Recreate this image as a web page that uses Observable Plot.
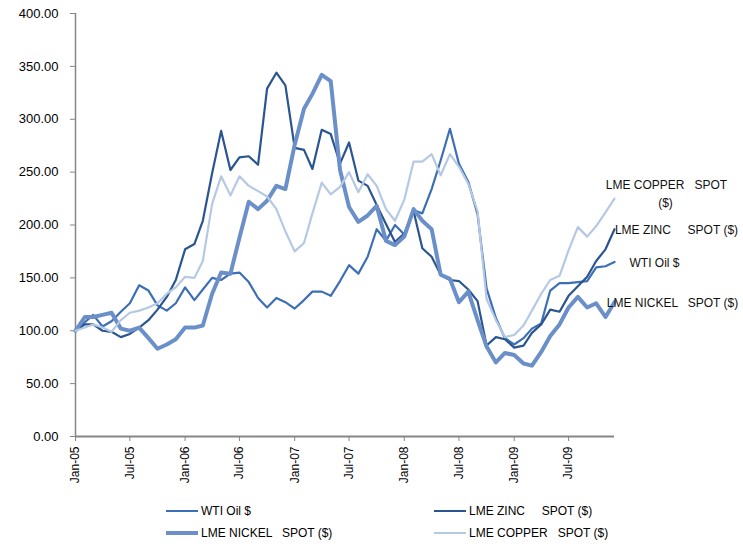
<!DOCTYPE html>
<html>
<head>
<meta charset="utf-8">
<script src="https://cdn.jsdelivr.net/npm/d3@7"></script>
<script src="https://cdn.jsdelivr.net/npm/@observablehq/plot@0.6"></script>
<style>
  html, body { margin: 0; padding: 0; background: #fff; }
  body { width: 743px; height: 546px; overflow: hidden; font-family: "Liberation Sans", Arial, sans-serif; }
  #chart svg { display: block; }
  svg text { white-space: pre; }
  #legend { position: relative; width: 743px; height: 56px; font-size: 12px; color: #000; }
  .item { position: absolute; display: flex; align-items: center; white-space: pre; }
  .sw { width: 32px; margin-right: 3px; }
</style>
</head>
<body>
<div id="chart"></div>
<div id="legend"></div>
<script>
// ---- data (index = month, Jan-05 .. Dec-09) ----
const seriesNames = ["WTI Oil $", "LME ZINC     SPOT ($)", "LME NICKEL   SPOT ($)", "LME COPPER   SPOT ($)"];

const oil = [100,108,115,104,109,118,126,143,138,124,119,126,
             141,129,139,150,148,154,155,146,131,122,131,127,
             121,129,137,137,133,147,162,154,170,196,185,200,
             191,214,211,234,261,291,258,241,210,140,112,93,
             87,93,102,107,138,145,145,146,147,160,161,165];

const zinc = [100,106,106,100,99,94,97,103,110,120,132,148,
              177,182,204,249,289,252,264,265,257,329,344,332,
              273,271,253,290,286,258,278,242,237,219,201,184,
              192,213,178,170,153,148,147,139,128,86,94,92,
              84,86,98,106,120,118,133,142,151,166,177,196];

const nickel = [100,113,113,115,117,102,100,103,93,83,87,92,
                103,103,105,135,155,154,188,222,215,223,237,234,
                276,310,324,342,336,252,217,203,209,218,185,181,
                189,215,204,196,153,149,127,137,110,85,70,79,
                77,69,67,80,95,106,122,132,122,126,113,127];

const copper = [100,103,106,103,99,110,117,119,122,126,135,141,
                151,150,166,220,246,228,246,237,232,227,215,194,
                175,183,211,240,229,236,250,231,248,237,215,204,
                224,260,260,267,247,267,255,239,213,130,110,94,
                96,105,119,135,148,152,176,198,189,199,212,225];

const yTicks = [0, 50, 100, 150, 200, 250, 300, 350, 400];

// ---- build ----
const months = d3.utcMonth.range(new Date(Date.UTC(2005, 0, 1)), new Date(Date.UTC(2010, 0, 1)));
const tickDates = months.filter((d, i) => i % 6 === 0);
const allValues = [oil, zinc, nickel, copper];
const colors = ["#3d6fb6", "#2a5590", "#6b8fc8", "#b5c8e4"];
const widths = [2.2, 2.2, 4, 2.2];

const rows = (vals) => months.map((d, i) => ({date: d, value: vals[i]}));
const last = (vals) => [{date: months[months.length - 1], value: vals[vals.length - 1]}];

const lineMarks = allValues.map((vals, k) =>
  Plot.line(rows(vals), {x: "date", y: "value", stroke: colors[k], strokeWidth: widths[k], strokeLinejoin: "round"}));

const labelOpts = [
  {k: 0, text: seriesNames[0], dx: 40, dy: 1},
  {k: 1, text: seriesNames[1], dx: 62, dy: 1},
  {k: 2, text: seriesNames[2], dx: 58, dy: 1},
  {k: 3, text: "LME COPPER   SPOT", dx: 52, dy: -13},
  {k: 3, text: "($)", dx: 51, dy: 5}
];
const labelMarks = labelOpts.map(o =>
  Plot.text(last(allValues[o.k]), {x: "date", y: "value", text: () => o.text,
    dx: o.dx, dy: o.dy, textAnchor: "middle", lineAnchor: "middle",
    fill: "#111", fontSize: 12}));

const chart = Plot.plot({
  width: 743,
  height: 490,
  marginLeft: 75,
  marginRight: 129,
  marginTop: 13,
  marginBottom: 54,
  x: {type: "utc", domain: [months[0], months[months.length - 1]]},
  y: {domain: [0, 400]},
  style: {fontFamily: '"Liberation Sans", Arial, sans-serif', fontSize: "12px", background: "#fff", color: "#000"},
  marks: [
    Plot.axisY({ticks: yTicks, tickFormat: d => d.toFixed(2), tickSize: 5, tickPadding: 12,
      stroke: "#868686", fill: "#000", label: null, fontSize: 13}),
    Plot.axisX({ticks: tickDates, tickFormat: d3.utcFormat("%b-%y"), tickRotate: -90, tickSize: 5,
      tickPadding: 5, stroke: "#868686", fill: "#000", label: null, fontSize: 12}),
    Plot.ruleX([months[0]], {stroke: "#868686", strokeWidth: 1.5}),
    Plot.ruleY([0], {stroke: "#868686", strokeWidth: 2}),
    ...lineMarks,
    ...labelMarks
  ]
});
document.getElementById("chart").appendChild(chart);

// ---- legend ----
const legend = document.getElementById("legend");
const legendPos = [[166, 21], [434, 21], [166, 43], [434, 43]];
seriesNames.forEach((name, k) => {
  const item = document.createElement("div");
  item.className = "item";
  item.style.left = legendPos[k][0] + "px";
  item.style.top = (legendPos[k][1] - 8) + "px";
  item.style.height = "16px";
  const sw = document.createElement("div");
  sw.className = "sw";
  sw.style.height = widths[k] + "px";
  sw.style.background = colors[k];
  const t = document.createElement("span");
  t.textContent = name;
  item.appendChild(sw);
  item.appendChild(t);
  legend.appendChild(item);
});
</script>
</body>
</html>
